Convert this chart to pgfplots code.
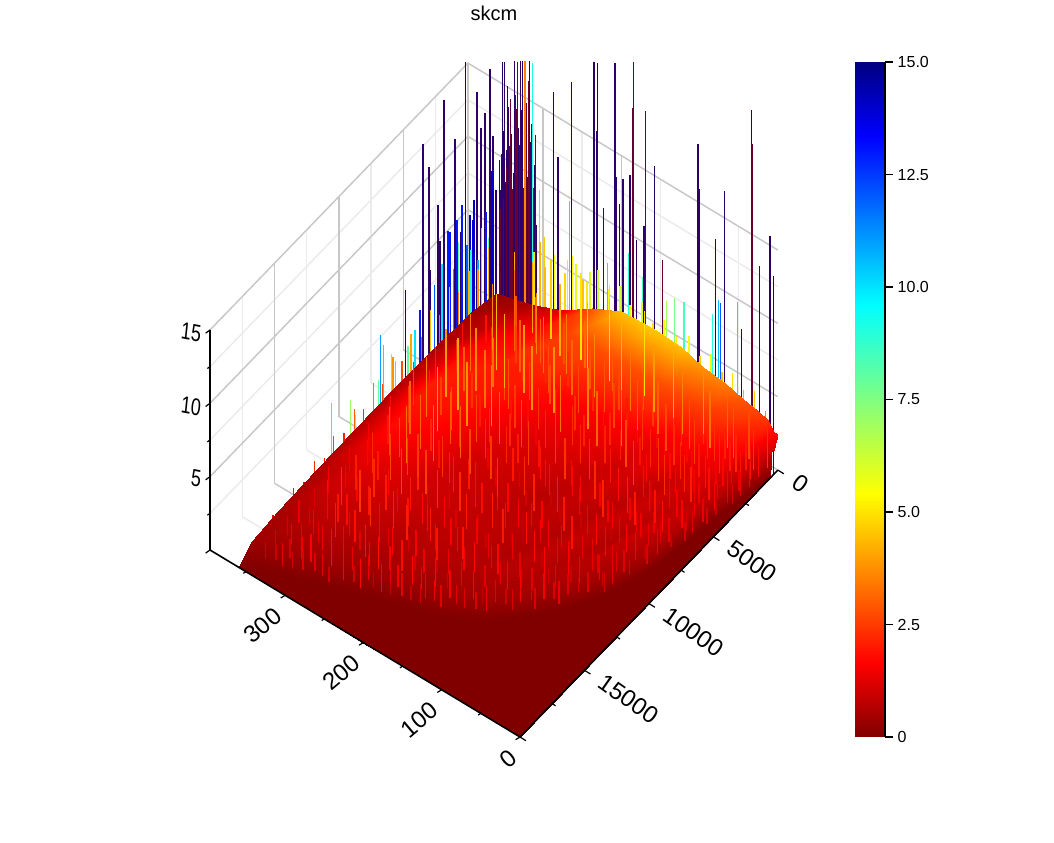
\documentclass[border=0pt]{standalone}
\usepackage{fontspec}
\setmainfont{Liberation Sans}
\usepackage{pgfplots}
\usepackage{pgfplotstable}
\pgfplotsset{compat=1.18}
\pgfplotsset{colormap={jetr}{rgb255(0pt)=(128,0,0) rgb255(11pt)=(255,0,0) rgb255(36pt)=(255,255,0) rgb255(50pt)=(128,255,128) rgb255(64pt)=(0,255,255) rgb255(89pt)=(0,0,255) rgb255(100pt)=(0,0,128)}}
\definecolor{spikepurple}{RGB}{45,0,105}
\definecolor{spikemaroon}{RGB}{105,0,50}
\colorlet{gridmajor}{black!22}
\colorlet{gridminor}{black!8}

\pgfplotstableread{
x y z
20000 0 0
600 0 0
570 0 1.2
510 0 1.6
420 0 1.9
330 0 1.7
240 0 2.0
150 0 2.1
60 0 2.3
0 0 2.4
20000 6 0
2200 6 0
2090 6 1.1
1870 6 1.5
1540 6 1.8
1210 6 1.6
880 6 2.0
550 6 2.2
220 6 2.4
0 6 2.5
20000 12 0
3800 12 0
3610 12 1.0
3230 12 1.4
2660 12 1.5
2090 12 1.8
1520 12 1.9
950 12 2.5
380 12 2.8
0 12 3.0
20000 25 0
8400 25 0
7980 25 1.0
7140 25 1.3
5880 25 1.5
4620 25 1.4
3360 25 1.9
2100 25 2.3
840 25 2.8
0 25 3.2
20000 44 0
11000 44 0
10450 44 0.9
9350 44 1.2
7700 44 1.6
6050 44 1.4
4400 44 1.8
2750 44 2.2
1100 44 3.0
0 44 3.4
20000 67 0
12840 67 0
12200 67 0.9
10910 67 1.3
8990 67 1.2
7060 67 1.6
5140 67 1.5
3210 67 2.3
1280 67 3.1
0 67 3.8
20000 95 0
14400 95 0
13680 95 0.9
12240 95 1.2
10080 95 1.5
7920 95 1.3
5760 95 1.8
3600 95 2.1
1440 95 3.2
0 95 4.0
20000 124 0
15600 124 0
14820 124 0.9
13260 124 1.3
10920 124 1.2
8580 124 1.5
6240 124 1.6
3900 124 2.3
1560 124 3.3
0 124 4.4
20000 158 0
16500 158 0
15680 158 0.9
14030 158 1.2
11550 158 1.4
9080 158 1.3
6600 158 1.8
4130 158 2.3
1650 158 3.3
0 158 4.5
20000 200 0
17180 200 0
16320 200 0.9
14600 200 1.3
12030 200 1.5
9450 200 1.6
6870 200 1.9
4300 200 2.4
1720 200 3.3
0 200 4.4
20000 238 0
17800 238 0
16910 238 0.9
15130 238 1.2
12460 238 1.6
9790 238 1.7
7120 238 2.2
4450 238 2.7
1780 238 3.2
0 238 3.4
20000 277 0
18400 277 0
17480 277 0.9
15640 277 1.4
12880 277 1.8
10120 277 2.2
7360 277 2.6
4600 277 2.7
1840 277 2.4
0 277 2.0
20000 317 0
19100 317 0
18150 317 0.9
16240 317 1.4
13370 317 1.9
10510 317 2.5
7640 317 2.7
4780 317 2.4
1910 317 1.7
0 317 1.1
20000 360 0
19900 360 0
18900 360 0.8
16900 360 1.0
13930 360 1.1
10950 360 1.2
7960 360 1.2
4980 360 1.1
1990 360 0.9
0 360 0.5
}\surfacedata

\pgfplotstableread{
x y w
300 347 16.9
300 344 17.0
300 340 15.5
300 331 17.5
300 324 17.7
300 321 17.8
300 312 18.1
300 282 17.0
300 259 18.4
300 230 20.7
300 225 20.8
300 203 21.5
300 153 16.1
300 97 19.4
300 95 16.4
300 63 17.3
300 29 23.9
300 5 16.1
300 1 13.5
300 19 13.6
300 75 13.6
300 276 12.7
300 201 13.8
300 197 12.1
300 193 13.9
300 184 14.5
300 176 10.3
300 166 11.6
300 231 10.0
300 226 16.1
2364 360 18.4
1473 360 15.5
4031 360 17.3
5659 360 15.8
5194 360 13.8
3178 360 13.9
465 360 16.2
853 360 13.5
1163 360 12.8
233 360 11.4
0 360 7.5
7054 360 7.1
5116 360 6.7
4341 360 8.0
4496 360 10.6
2713 360 7.1
300 351 10.1
300 349 8.1
300 354 7.3
300 345 12.3
300 341 11.1
300 332 13.4
300 327 12.2
300 323 14.4
300 317 13.6
300 308 15.2
300 303 7.2
300 306 11.2
300 309 9.4
300 311 12.6
300 315 10.1
300 318 14.8
300 322 11.7
300 326 13.1
300 333 9.8
300 336 12.4
300 339 14.1
300 343 8.9
300 348 10.6
}\purplespikes

\pgfplotstableread{
x y w
300 179 22.3
300 181 19.1
300 164 19.5
300 28 21.6
300 142 10.0
300 337 14.7
300 335 10.0
300 330 15.2
300 319 15.9
300 314 16.7
300 305 13.3
300 328 17.5
300 307 9.6
300 310 13.9
300 313 11.3
300 316 15.1
300 320 9.2
300 325 12.0
300 329 14.3
300 334 8.7
300 338 11.5
300 342 9.9
300 346 7.6
300 350 6.8
}\maroonspikes

\pgfplotstableread{
x y w m
12791 360 4.6 9.5
11318 360 3.5 7
10930 360 2.1 7.2
8992 360 5.8 11
8760 360 4.9 10
8140 360 3.7 8
9147 360 2.9 8
7829 360 3.0 9.5
6822 360 3.1 8
6279 360 3.7 10
5891 360 4.7 13
3566 360 7.9 13
2636 360 8.9 13
2248 360 5.8 12
1783 360 7.1 14
1395 360 4.0 11
775 360 6.7 13
310 360 9.1 14
3721 360 8.1 13
3023 360 8.2 13
2016 360 7.6 14
1705 360 8.4 14
4800 360 5.4 12
4200 360 6.3 10
3300 360 5.1 11
2900 360 6.6 8
1950 360 5.2 9
1100 360 5.9 9
600 360 4.8 8
300 300 9.7 8.5
300 261 10.2 10
300 218 11.1 13.5
300 213 7.5 10
300 186 9.1 9
300 168 8.0 8.5
300 137 7.4 7
300 127 7.9 7.5
300 115 8.0 8.5
300 79 8.4 9
300 71 9.6 10.5
300 68 9.5 12
300 47 10.2 10
300 41 8.6 14
300 264 6.1 5
300 257 6.6 5.3
300 293 6.7 4.6
300 299 6.2 4.3
300 244 5.4 4.5
300 235 6.2 6
300 210 6.1 6.5
300 184 5.2 5
300 318 17.9 3.6
300 309 18.1 9
}\mappedspikes

\pgfplotstableread{
x y w
18500 355 1.2
17600 355 1.5
16800 355 1.3
16000 355 1.9
15200 355 1.6
14400 355 2.3
13600 355 1.8
12900 355 2.6
12100 355 2.1
11300 355 3.0
10600 355 2.4
9800 355 3.4
9100 355 2.7
8300 355 3.8
7600 355 2.9
6900 355 4.1
6100 355 3.2
5400 355 4.4
4700 355 3.4
3900 355 4.6
3200 355 3.6
2400 355 4.3
1700 355 3.8
900 355 4.5
100 335 4.2
100 322 3.6
100 310 5.0
100 296 4.4
100 284 5.6
100 270 4.8
100 256 5.9
100 242 5.1
100 228 6.4
100 215 5.5
100 200 6.2
100 187 5.3
100 172 6.0
100 158 5.0
100 144 5.7
100 128 5.1
100 112 5.6
100 98 4.7
100 84 5.3
100 70 4.5
100 56 4.9
100 42 4.2
100 28 4.6
100 14 3.7
}\fringespikes

\pgfplotstableread{
x y w
2300 335 1.9
4600 335 2.3
6700 335 2.1
8300 335 2.5
9900 335 2.0
11500 335 1.7
13200 335 1.5
14600 335 1.8
16000 335 1.2
17400 335 1.4
18600 335 1.0
1200 315 2.8
3100 315 2.4
5200 315 3.0
7000 315 2.6
8600 315 2.2
10200 315 2.7
11900 315 2.0
13500 315 1.7
15000 315 1.9
16500 315 1.3
17800 315 1.5
18500 315 1.1
900 295 3.1
2400 295 2.5
4200 295 3.3
5800 295 2.4
7400 295 2.9
9000 295 2.2
10800 295 2.5
12300 295 1.8
13800 295 2.0
15300 295 1.5
16700 295 1.7
18000 295 1.2
1700 275 3.0
3100 275 2.3
4500 275 2.8
6400 275 2.1
8000 275 2.5
9600 275 1.9
11200 275 2.2
12800 275 1.6
14200 275 1.8
15700 275 1.3
17000 275 1.6
18100 275 1.0
1100 255 2.8
2500 255 2.2
3800 255 2.6
5200 255 1.9
6900 255 2.3
8400 255 1.6
10000 255 2.1
11700 255 1.4
13200 255 1.9
14700 255 1.2
16200 255 1.6
17400 255 1.1
700 235 3.2
2000 235 2.3
3400 235 2.7
5100 235 1.8
6500 235 2.2
8200 235 1.4
9700 235 2.0
11200 235 1.3
12900 235 1.8
14400 235 1.1
15800 235 1.6
17100 235 1.0
1500 215 2.9
2700 215 2.0
4200 215 2.4
5700 215 1.5
7100 215 2.0
8800 215 1.3
10400 215 1.9
11900 215 1.2
13500 215 1.7
15100 215 1.1
16400 215 1.5
17000 215 0.9
1000 195 3.0
2500 195 2.2
3900 195 2.3
5200 195 1.4
6700 195 1.9
8200 195 1.2
9900 195 1.8
11400 195 1.1
13000 195 1.7
14600 195 1.0
15800 195 1.5
16600 195 0.9
1700 175 2.7
2900 175 1.9
4400 175 2.1
5800 175 1.3
7400 175 1.8
8900 175 1.1
10500 175 1.7
12000 175 1.0
13700 175 1.6
15000 175 1.0
16000 175 1.4
1000 155 2.9
2300 155 2.0
3600 155 2.2
5000 155 1.3
6600 155 1.7
8200 155 1.0
9700 155 1.6
11200 155 1.0
12800 155 1.5
14200 155 0.9
15500 155 1.3
1500 135 2.5
2700 135 1.8
4000 135 2.0
5500 135 1.2
7100 135 1.7
8700 135 1.0
10200 135 1.5
11800 135 0.9
13300 135 1.4
14700 135 0.9
15200 135 1.2
1100 115 2.6
2400 115 1.8
3700 115 1.9
5200 115 1.1
6800 115 1.6
8300 115 1.0
9800 115 1.5
11300 115 0.9
12900 115 1.3
14100 115 1.0
1600 97 2.3
2900 97 1.7
4300 97 1.8
5700 97 1.1
7300 97 1.5
8900 97 0.9
10300 97 1.4
11900 97 1.0
13200 97 1.2
900 80 2.4
2200 80 1.7
3500 80 1.8
5000 80 1.1
6600 80 1.5
8100 80 0.9
9500 80 1.4
11200 80 1.0
12500 80 1.2
1500 65 2.2
2700 65 1.6
4000 65 1.6
5400 65 1.0
7000 65 1.4
8500 65 0.9
10000 65 1.3
11500 65 1.0
1000 51 2.1
2200 51 1.6
3400 51 1.5
5000 51 1.0
6500 51 1.4
7900 51 0.9
9400 51 1.3
10500 51 1.0
1400 38 2.0
2500 38 1.5
3800 38 1.5
5300 38 1.0
6800 38 1.3
8000 38 0.9
9200 38 1.1
900 26 2.0
2000 26 1.5
3100 26 1.3
4200 26 1.0
5500 26 1.2
6700 26 0.9
1200 15 1.9
2100 15 1.4
3000 15 1.2
3900 15 0.9
4600 15 1.1
}\shortspikes

\pgfplotstableread{
x y w
1200 345 2.6
3500 345 2.1
5600 345 2.4
7300 345 2.9
9100 345 2.2
10800 345 1.9
12300 345 1.7
13900 345 1.8
15000 345 1.4
16200 345 1.6
17100 345 1.3
18000 345 1.2
18800 345 1.1
700 325 3.8
2400 325 4.4
4100 325 3.9
6000 325 4.6
7500 325 4.1
8800 325 3.6
10400 325 3.3
11700 325 2.7
13000 325 2.4
14100 325 2.6
15200 325 1.9
16300 325 1.7
17200 325 1.5
18100 325 1.3
18700 325 1.6
500 305 4.8
1900 305 3.6
3300 305 5.2
4900 305 4.3
6300 305 4.9
7900 305 4.4
9200 305 3.7
10300 305 3.9
11500 305 3.1
12800 305 2.6
13900 305 2.8
14900 305 2.1
15800 305 2.3
16800 305 1.7
17700 305 1.9
18300 305 1.4
300 285 5.5
1400 285 4.2
2700 285 3.5
3900 285 5.0
5400 285 3.9
6800 285 4.4
8100 285 3.5
9400 285 3.8
10600 285 2.9
11900 285 3.1
13100 285 2.4
14300 285 2.6
15500 285 2.2
16400 285 1.9
17300 285 2.1
18000 285 1.5
800 265 4.9
2100 265 3.8
3600 265 4.6
4800 265 3.4
6100 265 4.2
7300 265 3.2
8500 265 3.6
9900 265 2.8
11200 265 3.0
12400 265 2.3
13700 265 2.5
14800 265 2.0
15900 265 2.2
16900 265 1.6
17600 265 1.9
400 245 5.9
1500 245 4.1
2900 245 3.3
4200 245 4.4
5500 245 2.9
6700 245 3.5
7800 245 2.7
9000 245 3.1
10300 245 2.4
11500 245 2.6
12700 245 2.1
13900 245 2.4
15000 245 1.9
16100 245 2.2
16900 245 1.7
17500 245 2.0
1100 225 5.2
2300 225 3.7
3700 225 4.5
4900 225 2.8
6200 225 3.2
7400 225 2.5
8600 225 2.9
9800 225 2.2
11000 225 2.6
12200 225 2.0
13300 225 2.3
14400 225 1.8
15500 225 2.1
16400 225 1.6
17100 225 1.9
600 205 5.6
1800 205 4.3
3000 205 3.2
4400 205 3.9
5600 205 2.6
6900 205 3.0
8100 205 2.3
9300 205 2.7
10500 205 2.1
11700 205 2.4
12900 205 1.9
14000 205 2.2
15000 205 1.7
15900 205 2.0
16700 205 1.6
900 185 5.0
2200 185 3.5
3500 185 4.2
4700 185 2.7
6000 185 2.9
7200 185 2.2
8400 185 2.6
9700 185 2.0
10900 185 2.4
12100 185 1.8
13200 185 2.2
14300 185 1.7
15300 185 2.0
16100 185 1.6
16500 185 1.3
300 165 5.8
1400 165 4.0
2700 165 3.1
4000 165 3.7
5300 165 2.6
6500 165 2.8
7700 165 2.1
8900 165 2.5
10100 165 1.9
11300 165 2.3
12400 165 1.7
13500 165 2.1
14500 165 1.6
15400 165 1.9
16100 165 1.5
800 145 4.6
2100 145 3.4
3300 145 3.8
4600 145 2.5
5800 145 2.7
7100 145 2.0
8300 145 2.4
9500 145 1.9
10700 145 2.2
11800 145 1.7
12900 145 2.0
13900 145 1.5
14800 145 1.9
15500 145 1.4
500 125 4.9
1700 125 3.6
2900 125 2.9
4200 125 3.2
5400 125 2.3
6600 125 2.6
7800 125 1.9
9000 125 2.3
10200 125 1.8
11300 125 2.1
12400 125 1.6
13400 125 1.9
14300 125 1.5
15000 125 1.7
1000 105 4.2
2300 105 3.2
3500 105 2.6
4800 105 3.0
6000 105 2.2
7200 105 2.5
8400 105 1.8
9600 105 2.2
10700 105 1.7
11700 105 2.0
12700 105 1.5
13600 105 1.8
14200 105 1.4
400 88 4.4
1500 88 3.4
2700 88 2.7
3900 88 2.9
5100 88 2.1
6300 88 2.4
7500 88 1.8
8700 88 2.1
9800 88 1.6
10900 88 1.9
11900 88 1.5
12800 88 1.8
13500 88 1.4
900 72 3.9
2100 72 3.0
3200 72 2.5
4400 72 2.7
5600 72 2.0
6700 72 2.3
7900 72 1.7
9000 72 2.0
10000 72 1.6
11000 72 1.8
11900 72 1.4
12600 72 1.6
400 58 3.6
1400 58 2.8
2600 58 2.3
3700 58 2.5
4900 58 1.9
6000 58 2.2
7100 58 1.7
8200 58 1.9
9300 58 1.5
10300 58 1.7
11200 58 1.4
700 45 3.4
1800 45 2.6
2900 45 2.2
4000 45 2.4
5100 45 1.8
6200 45 2.1
7300 45 1.6
8300 45 1.8
9200 45 1.5
10100 45 1.6
10700 45 1.3
300 32 3.2
1300 32 2.6
2300 32 2.0
3400 32 2.2
4500 32 1.7
5500 32 1.9
6500 32 1.6
7400 32 1.7
8200 32 1.4
700 20 2.8
1700 20 2.2
2700 20 1.8
3700 20 1.9
4600 20 1.6
5400 20 1.5
6000 20 1.3
200 10 2.7
900 10 2.1
1600 10 1.7
2300 10 1.6
2900 10 1.3
}\texturespikes

\begin{document}
\begin{tikzpicture}
\begin{axis}[
    x={(-0.009675pt,-0.010013pt)},
    y={(-0.5871pt,0.3542pt)},
    z={(0pt,11pt)},
    xmin=0, xmax=20000, ymin=0, ymax=396, zmin=0, zmax=15,
    clip=false,
    colormap name=jetr,
    point meta min=0, point meta max=15,
    xtick={0,5000,10000,15000},
    ytick={0,100,200,300},
    ztick={5,10,15},
    xtick pos=left, ytick pos=left, ztick pos=left,
    scaled x ticks=false,
    axis line style={draw=none},
    major tick length=0pt,
    tick style={draw=none},
    /pgf/number format/1000 sep={},
    /pgf/number format/assume math mode=true,
    xticklabel style={font=\fontsize{18}{18}\selectfont, rotate=-35, anchor=north west, xshift=11pt, yshift=11.5pt},
    yticklabel style={font=\fontsize{18}{18}\selectfont, rotate=40, anchor=north east, xshift=-8.8pt, yshift=3.4pt},
    zticklabel style={font=\fontsize{18}{18}\selectfont, xscale=0.75, rotate=-8, xshift=-4pt, yshift=-1pt},
]
% walls, only the three at the back
\pgfplotsinvokeforeach{2500,7500,12500,17500}{
    \draw[gridminor, line width=1.1pt] (axis cs:#1,396,0) -- (axis cs:#1,396,15);
    \draw[gridminor, line width=1.1pt] (axis cs:#1,396,0) -- (axis cs:#1,0,0);
}
\pgfplotsinvokeforeach{50,150,250,350}{
    \draw[gridminor, line width=1.1pt] (axis cs:0,#1,0) -- (axis cs:0,#1,15);
    \draw[gridminor, line width=1.1pt] (axis cs:0,#1,0) -- (axis cs:20000,#1,0);
}
\pgfplotsinvokeforeach{2.5,7.5,12.5}{
    \draw[gridminor, line width=1.1pt] (axis cs:20000,396,#1) -- (axis cs:0,396,#1) -- (axis cs:0,0,#1);
}
\pgfplotsinvokeforeach{0,5000,10000,15000}{
    \draw[gridmajor, line width=1.1pt] (axis cs:#1,396,0) -- (axis cs:#1,396,15);
    \draw[gridmajor, line width=1.1pt] (axis cs:#1,396,0) -- (axis cs:#1,0,0);
}
\pgfplotsinvokeforeach{100,200,300}{
    \draw[gridmajor, line width=1.1pt] (axis cs:0,#1,0) -- (axis cs:0,#1,15);
    \draw[gridmajor, line width=1.1pt] (axis cs:0,#1,0) -- (axis cs:20000,#1,0);
}
\pgfplotsinvokeforeach{5,10,15}{
    \draw[gridmajor, line width=1.1pt] (axis cs:20000,396,#1) -- (axis cs:0,396,#1) -- (axis cs:0,0,#1);
}
\addplot3[quiver={u=0,v=0,w=\thisrow{w}}, color=spikepurple, line width=0.9pt, no marks] table[z expr=0] {\purplespikes};
\addplot3[quiver={u=0,v=0,w=\thisrow{w}}, color=spikemaroon, line width=0.9pt, no marks] table[z expr=0] {\maroonspikes};
\addplot3[quiver={u=0,v=0,w=\thisrow{w},colored}, point meta=\thisrow{m}, line width=0.9pt, no marks] table[z expr=0] {\mappedspikes};
\addplot3[quiver={u=0,v=0,w=\thisrow{w},colored}, point meta=\thisrow{w}, line width=1.1pt, no marks] table[z expr=0] {\fringespikes};
\addplot3[surf, shader=interp, z buffer=sort, point meta={0.15*z*z+0.35*z}, mesh/rows=14, mesh/cols=10] table {\surfacedata};
\addplot3[quiver={u=0,v=0,w=\thisrow{w},colored}, point meta=\thisrow{w}, line width=1.1pt, no marks] table[z expr=0] {\shortspikes};
\addplot3[quiver={u=0,v=0,w=\thisrow{w},colored}, point meta={0.85*\thisrow{w}}, line width=1pt, no marks] table[z expr=0] {\texturespikes};
% black front edges and their ticks
\draw[black, line width=1.2pt] (axis cs:20000,396,15) -- (axis cs:20000,396,0) -- (axis cs:20000,0,0) -- (axis cs:0,0,0);
\pgfplotsinvokeforeach{0,5000,10000,15000,20000}{
    \draw[black, line width=0.9pt] (axis cs:#1,0,0) -- ++(4.5pt,-2.8pt);
}
\pgfplotsinvokeforeach{2500,7500,12500,17500}{
    \draw[black, line width=0.9pt] (axis cs:#1,0,0) -- ++(2.5pt,-1.6pt);
}
\pgfplotsinvokeforeach{0,100,200,300}{
    \draw[black, line width=0.9pt] (axis cs:20000,#1,0) -- ++(-3.3pt,-2pt);
}
\pgfplotsinvokeforeach{50,150,250,350}{
    \draw[black, line width=0.9pt] (axis cs:20000,#1,0) -- ++(-2pt,-1.2pt);
}
\pgfplotsinvokeforeach{0,5,10,15}{
    \draw[black, line width=0.9pt] (axis cs:20000,396,#1) -- ++(-3.3pt,-2.4pt);
}
\pgfplotsinvokeforeach{2.5,7.5,12.5}{
    \draw[black, line width=0.9pt] (axis cs:20000,396,#1) -- ++(-2pt,-1.4pt);
}
\coordinate (c0) at (axis cs:20000,0,0);
\coordinate (c1) at ([xshift=251.25pt]c0);
\end{axis}
\begin{axis}[
    at={(c1)}, anchor=south west,
    scale only axis, width=22.5pt, height=506.25pt,
    xmin=0, xmax=1, ymin=0, ymax=15,
    view={0}{90},
    colormap name=jetr,
    point meta min=0, point meta max=15,
    axis x line=none,
    axis y line*=right,
    ytick={0,2.5,5,7.5,10,12.5,15},
    yticklabels={0,2.5,5.0,7.5,10.0,12.5,15.0},
    tick align=outside,
    major tick length=6pt,
    tick style={black, line width=0.9pt},
    axis line style={black, line width=0.9pt},
    yticklabel style={font=\fontsize{12}{12}\selectfont},
]
\addplot3[surf, shader=interp, point meta=z] coordinates {
    (0,0,0) (1,0,0)

    (0,15,15) (1,15,15)
};
\end{axis}
\node[font=\fontsize{15}{15}\selectfont] at ([xshift=-19.5pt,yshift=542.5pt]c0) {skcm};
\pgfresetboundingbox
\path[use as bounding box] ([xshift=-390pt,yshift=-79.5pt]c0) rectangle ([xshift=400.5pt,yshift=552.75pt]c0);
\end{tikzpicture}
\end{document}
